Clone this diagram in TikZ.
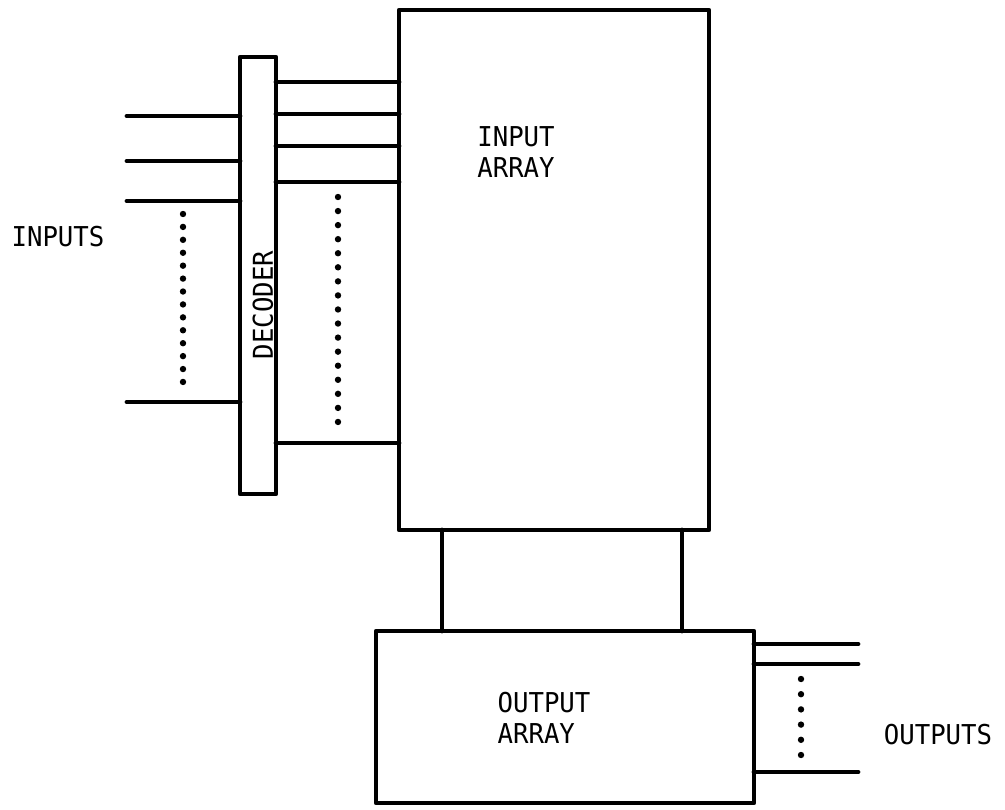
\documentclass[tikz,border=0pt]{standalone}
\usepackage{fontspec}
\newfontfamily\lblfont[FakeStretch=0.94]{DejaVu Sans Mono}
\begin{document}
\begin{tikzpicture}[x=0.75pt,y=-0.75pt,line width=3.6pt,line cap=round,line join=round,
  box/.style={draw,rectangle,inner sep=0pt,outer sep=0pt},
  lbl/.style={font=\lblfont\fontsize{20.5}{23.25}\selectfont,inner sep=0pt,align=left}]
\useasboundingbox (0,0) rectangle (1005,809);
% blocks
\node[box,minimum width=27pt,minimum height=327.75pt] (dec) at (258,275.5) {};
\node[box,minimum width=232.5pt,minimum height=390pt] (ia) at (554,270) {};
\node[box,minimum width=283.5pt,minimum height=129pt] (oa) at (565,717) {};
% labels
\node[lbl,rotate=90] (declbl) at (263,305) {DECODER};
\node[lbl] (ialbl) at (516,152) {INPUT\\ARRAY};
\node[lbl] (oalbl) at (544,717.5) {OUTPUT\\ARRAY};
\node[lbl] (inlbl) at (58,237) {INPUTS};
\node[lbl] (outlbl) at (938,735) {OUTPUTS};
% input wires
\foreach \y [count=\k] in {116,161,201,402}{
  \coordinate (in\k) at (127,\y);
  \draw (in\k) -- (dec.west |- in\k);
}
% decoder to input array
\foreach \y [count=\k] in {82,114,146,182,443}{
  \coordinate (d\k) at (0,\y);
  \draw (dec.east |- d\k) -- (ia.west |- d\k);
}
% input array to output array
\foreach \x [count=\k] in {442,682}{
  \coordinate (c\k) at (\x,0);
  \draw (ia.south -| c\k) -- (oa.north -| c\k);
}
% outputs
\foreach \y [count=\k] in {644,664,772}{
  \coordinate (o\k) at (858,\y);
  \draw (oa.east |- o\k) -- (o\k);
}
% dots
\foreach \i in {0,...,13} \fill (183,214+\i*12.92) circle (2.4pt);
\foreach \i in {0,...,16} \fill (338,197+\i*14.06) circle (2.4pt);
\foreach \i in {0,...,5} \fill (801,679+\i*15.2) circle (2.4pt);
\end{tikzpicture}
\end{document}
